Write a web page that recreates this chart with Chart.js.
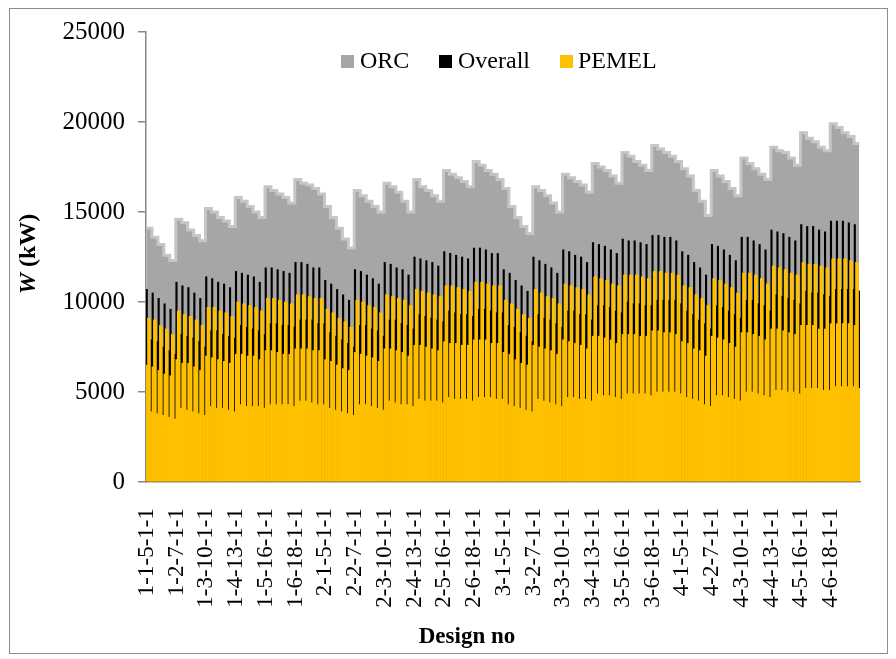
<!DOCTYPE html>
<html lang="en">
<head>
  <meta charset="UTF-8">
  <title>W (kW) par design</title>
  <script src="https://cdn.jsdelivr.net/npm/chart.js@4.4.0/dist/chart.umd.min.js"></script>
  <style>
    html, body { margin: 0; padding: 0; background: #fff; }
    #zone { width: 896px; height: 659px; }
  </style>
</head>
<body>
  <div id="zone"><canvas id="graphique" width="896" height="659"></canvas></div>

  <script>
    // code design : bloc - étage - température étage - variante - pas
    const blocs = [1, 2, 3, 4];
    const etages = [1, 2, 3, 4, 5, 6];
    const tempEtage = [5, 7, 10, 13, 16, 18];
    const variantes = [1, 2, 3, 4, 5];
    const pas = [1, 2, 3, 4];

    // une valeur par (bloc, étage, variante), en kW
    const orc = [
      14100,13600,13200,12600,12300, 14600,14400,14000,13700,13400, 15200,15000,14700,14500,14200, 15800,15600,15300,15000,14700, 16400,16200,16000,15800,15500, 16800,16600,16500,16300,16000,
      15300,14700,14100,13500,13000, 16200,15900,15600,15300,15000, 16600,16400,16100,15600,15000, 16800,16400,16200,15900,15600, 17300,17100,16900,16700,16400, 17800,17600,17300,17100,16800,
      16300,15300,14700,14200,13800, 16400,16200,15900,15500,15000, 17100,16900,16700,16500,16100, 17700,17500,17300,17000,16600, 18300,18100,17800,17600,17300, 18700,18500,18300,18100,17800,
      17400,17000,16200,15600,14800, 17300,17000,16700,16300,15900, 18000,17700,17400,17100,16800, 18600,18400,18300,18000,17600, 19400,19100,18900,18600,18400, 19900,19700,19400,19200,18800
    ];
    // Overall au pas 1, puis aux pas 2 à 4
    const overallHaut = [
      10700,10500,10200,9900,9600, 11100,10900,10800,10500,10200, 11400,11300,11100,11000,10800, 11700,11600,11500,11400,11100, 11900,11900,11800,11700,11600, 12200,12200,12100,11900,11900,
      11200,11000,10700,10400,10100, 11800,11700,11500,11300,11000, 12200,12100,11900,11800,11500, 12500,12400,12300,12200,12000, 12800,12700,12600,12500,12400, 13000,13000,12900,12700,12700,
      11800,11600,11200,10900,10600, 12500,12300,12100,11900,11600, 12900,12800,12600,12500,12200, 13300,13200,13100,12900,12700, 13500,13400,13400,13300,13200, 13700,13700,13600,13600,13400,
      12800,12600,12200,11900,11500, 13200,13100,12900,12600,12300, 13600,13600,13400,13200,12900, 14000,13900,13800,13600,13400, 14300,14200,14200,14000,13900, 14500,14500,14500,14400,14300
    ];
    const overallBas = [
      7900,7800,7500,7300,7100, 8200,8100,8000,7800,7500, 8400,8400,8200,8100,8000, 8700,8600,8500,8400,8200, 8800,8800,8700,8700,8600, 9000,9000,9000,8800,8800,
      8300,8100,7900,7700,7500, 8700,8700,8500,8400,8100, 9000,9000,8800,8700,8500, 9300,9200,9100,9000,8900, 9500,9400,9300,9300,9200, 9600,9600,9500,9400,9400,
      8700,8600,8300,8100,7800, 9300,9100,9000,8800,8600, 9500,9500,9300,9300,9000, 9800,9800,9700,9500,9400, 10000,9900,9900,9800,9800, 10100,10100,10100,10100,9900,
      9500,9300,9000,8800,8500, 9800,9700,9500,9300,9100, 10100,10100,9900,9800,9500, 10400,10300,10200,10100,9900, 10600,10500,10500,10400,10300, 10700,10700,10700,10700,10600
    ];
    // PEMEL : pas 1, pas 2-3, pas 4
    const pemelMilieu = [
      6500,6400,6200,6000,5900, 6800,6600,6600,6400,6200, 7000,6900,6800,6700,6600, 7100,7100,7000,7000,6800, 7300,7300,7200,7100,7100, 7400,7400,7400,7300,7300,
      6800,6700,6500,6300,6200, 7200,7100,7000,6900,6700, 7400,7400,7300,7200,7000, 7600,7600,7500,7400,7300, 7800,7700,7700,7600,7600, 7900,7900,7900,7700,7700,
      7200,7100,6800,6600,6500, 7600,7500,7400,7300,7100, 7900,7800,7700,7600,7400, 8100,8100,8000,7900,7700, 8200,8200,8200,8100,8100, 8400,8400,8300,8300,8200,
      7800,7700,7400,7300,7000, 8100,8000,7900,7700,7500, 8300,8300,8200,8100,7900, 8500,8500,8400,8300,8200, 8700,8700,8700,8500,8500, 8800,8800,8800,8800,8700
    ];
    const pemelHaut = [
      9100,9000,8700,8500,8200, 9500,9300,9200,9000,8700, 9700,9700,9500,9400,9200, 10000,9900,9800,9700,9500, 10200,10200,10100,10000,9900, 10400,10400,10300,10200,10200,
      9600,9400,9100,8900,8600, 10100,10000,9800,9700,9400, 10400,10300,10200,10100,9800, 10700,10600,10500,10400,10300, 10900,10900,10800,10700,10600, 11100,11100,11000,10900,10900,
      10100,9900,9600,9300,9100, 10700,10500,10300,10200,9900, 11000,10900,10800,10700,10400, 11400,11300,11200,11000,10900, 11500,11500,11500,11400,11300, 11700,11700,11600,11600,11500,
      10900,10800,10400,10200,9800, 11300,11200,11000,10800,10500, 11600,11600,11500,11300,11000, 12000,11900,11800,11600,11500, 12200,12100,12100,12000,11900, 12400,12400,12400,12300,12200
    ];
    const pemelBas = [
      3900,3800,3700,3600,3500, 4100,4000,3900,3800,3700, 4200,4100,4100,4000,3900, 4300,4200,4200,4200,4100, 4300,4300,4300,4300,4200, 4500,4500,4400,4300,4300,
      4100,4000,3900,3800,3700, 4300,4300,4200,4100,4000, 4500,4400,4300,4300,4200, 4600,4500,4500,4500,4400, 4700,4600,4600,4600,4500, 4700,4700,4700,4600,4600,
      4300,4200,4100,4000,3900, 4600,4500,4400,4300,4200, 4700,4700,4600,4600,4500, 4900,4800,4800,4700,4600, 4900,4900,4900,4900,4800, 5000,5000,5000,5000,4900,
      4700,4600,4500,4300,4200, 4800,4800,4700,4600,4500, 5000,5000,4900,4800,4700, 5100,5100,5000,5000,4900, 5200,5200,5200,5100,5100, 5300,5300,5300,5300,5200
    ];

    const labels = [], serieORC = [], serieOverall = [], seriePEMEL = [];
    let k = 0;
    blocs.forEach(a => {
      etages.forEach((b, j) => {
        variantes.forEach(d => {
          pas.forEach((e, n) => {
            labels.push(`${a}-${b}-${tempEtage[j]}-${d}-${e}`);
            serieORC.push(orc[k]);
            serieOverall.push(n === 0 ? overallHaut[k] : overallBas[k]);
            seriePEMEL.push([pemelMilieu[k], pemelHaut[k], pemelHaut[k], pemelBas[k]][n]);
          });
          k++;
        });
      });
    });
    const parGroupe = variantes.length * pas.length;

    const serif = '"Liberation Serif", "Times New Roman", serif';
    const couleurs = { ORC: '#a6a6a6', Overall: '#000000', PEMEL: '#ffc000' };

    // cadre, titres des axes et légende
    const habillage = {
      id: 'habillage',
      afterDraw(chart) {
        const c = chart.ctx;
        c.save();
        c.strokeStyle = '#8c8c8c';
        c.lineWidth = 1;
        c.strokeRect(9.5, 8.5, 878, 645);

        c.fillStyle = '#000';
        c.textBaseline = 'middle';
        c.textAlign = 'center';
        c.font = 'bold 23px ' + serif;
        c.fillText('Design no', 467, 637);
        c.textAlign = 'left';

        c.save();
        c.translate(29, 254);
        c.rotate(-Math.PI / 2);
        c.font = 'italic bold 24px ' + serif;
        const w1 = c.measureText('W').width;
        c.font = 'bold 24px ' + serif;
        const w2 = c.measureText(' (kW)').width;
        const x0 = -(w1 + w2) / 2;
        c.font = 'italic bold 24px ' + serif;
        c.fillText('W', x0, 0);
        c.font = 'bold 24px ' + serif;
        c.fillText(' (kW)', x0 + w1, 0);
        c.restore();

        const items = [
          { nom: 'ORC', boite: 341, texte: 360 },
          { nom: 'Overall', boite: 439, texte: 458 },
          { nom: 'PEMEL', boite: 560, texte: 578 }
        ];
        c.font = '24px ' + serif;
        items.forEach(it => {
          c.fillStyle = couleurs[it.nom];
          c.fillRect(it.boite, 55, 13, 13);
          c.fillStyle = '#000';
          c.fillText(it.nom, it.texte, 62);
        });
        c.restore();
      }
    };

    const ctx = document.getElementById('graphique').getContext('2d');
    new Chart(ctx, {
      type: 'bar',
      data: {
        labels: labels,
        datasets: [{
          type: 'line',
          label: 'ORC',
          data: serieORC,
          order: 3,
          stepped: 'middle',
          fill: 'origin',
          backgroundColor: couleurs.ORC,
          borderColor: '#c6c6c6',
          borderWidth: 3,
          pointRadius: 0
        }, {
          label: 'Overall',
          data: serieOverall,
          order: 2,
          backgroundColor: couleurs.Overall,
          grouped: false,
          barPercentage: 1,
          categoryPercentage: 1,
          inflateAmount: 0.33
        }, {
          label: 'PEMEL',
          data: seriePEMEL,
          order: 1,
          backgroundColor: couleurs.PEMEL,
          grouped: false,
          barPercentage: 1,
          categoryPercentage: 1,
          inflateAmount: 0.33
        }]
      },
      options: {
        responsive: false,
        animation: false,
        devicePixelRatio: 1,
        layout: { padding: { left: 0, right: 36, top: 32, bottom: 0 } },
        plugins: {
          legend: { display: false },
          tooltip: { enabled: false }
        },
        scales: {
          x: {
            offset: true,
            grid: { display: false, drawTicks: false },
            border: { color: '#868686', width: 1.5 },
            ticks: {
              autoSkip: false,
              minRotation: 90,
              maxRotation: 90,
              padding: 26,
              color: '#000',
              font: { family: serif, size: 23 },
              callback: function (val, i) {
                return i % parGroupe === 0 ? this.getLabelForValue(val) : '';
              }
            },
            afterFit: s => {
              s.height = 177;
              s.paddingLeft = 0;
              s.paddingRight = 0;
            }
          },
          y: {
            min: 0,
            max: 25000,
            ticks: {
              stepSize: 5000,
              padding: 13,
              color: '#000',
              font: { family: serif, size: 25 },
              callback: v => String(v)
            },
            grid: { drawOnChartArea: false, tickLength: 8, color: '#868686', lineWidth: 1.5 },
            border: { color: '#868686', width: 1.5 },
            afterFit: s => { s.width = 146; }
          }
        }
      },
      plugins: [habillage]
    });
  </script>
</body>
</html>
